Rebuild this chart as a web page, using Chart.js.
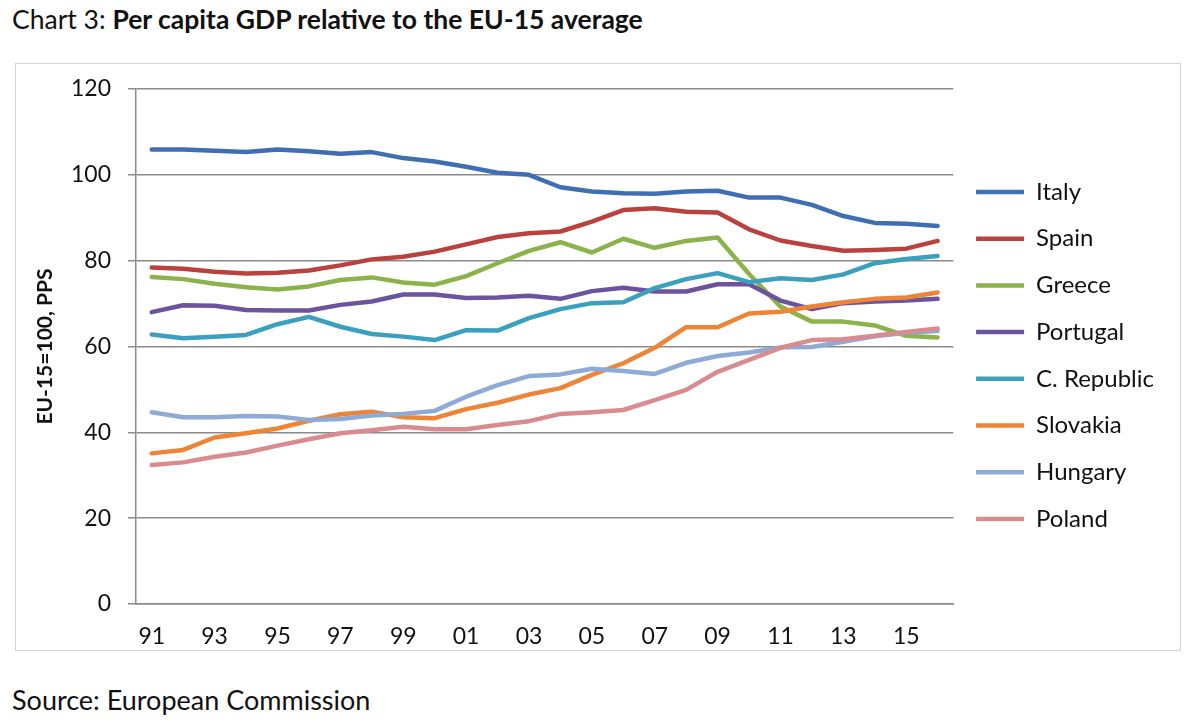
<!DOCTYPE html>
<html>
<head>
<meta charset="utf-8">
<script src="https://cdn.jsdelivr.net/npm/chart.js@4.4.0/dist/chart.umd.min.js"></script>
<style>
  body { margin: 0; background: #fff; width: 1200px; height: 728px; position: relative; overflow: hidden; font-family: Lato, "Open Sans", sans-serif; color: #111; }
  #title { position: absolute; left: 12px; top: 3px; font-size: 26.5px; white-space: nowrap; }
  #title b { font-weight: bold; }
  #frame { position: absolute; left: 15px; top: 63px; width: 1164px; height: 586px; border: 1px solid #d4d4d4; }
  #wrap { position: absolute; left: 16px; top: 64px; width: 1164px; height: 586px; }
  #source { position: absolute; left: 12px; top: 683px; font-size: 27px; white-space: nowrap; }
</style>
</head>
<body>
<div id="title">Chart 3: <b>Per capita GDP relative to the EU-15 average</b></div>
<div id="frame"></div>
<div id="wrap"><canvas id="chart"></canvas></div>
<div id="source">Source: European Commission</div>
<script>
// years 1991 - 2016
const years = ['91','92','93','94','95','96','97','98','99','00','01','02','03',
               '04','05','06','07','08','09','10','11','12','13','14','15','16'];

const italy    = [105.9,105.9,105.6,105.3,105.9,105.5,104.9,105.3,103.9,103.1,101.9,100.5,100.0,97.1,96.1,95.7,95.6,96.1,96.3,94.7,94.7,93.0,90.4,88.8,88.6,88.1];
const spain    = [78.4,78.1,77.4,77.0,77.2,77.7,78.9,80.3,80.9,82.1,83.8,85.5,86.4,86.8,89.1,91.8,92.2,91.4,91.2,87.3,84.7,83.4,82.3,82.5,82.8,84.6];
const greece   = [76.2,75.7,74.6,73.8,73.3,74.0,75.5,76.1,74.9,74.4,76.4,79.4,82.3,84.3,81.9,85.1,83.0,84.6,85.4,76.9,69.3,65.8,65.8,64.9,62.5,62.1];
const portugal = [68.0,69.6,69.5,68.5,68.4,68.4,69.7,70.5,72.1,72.1,71.3,71.4,71.8,71.1,72.9,73.7,72.8,72.8,74.5,74.5,70.7,68.7,70.1,70.5,70.7,71.1];
const czech    = [62.8,61.9,62.3,62.7,65.2,66.9,64.6,62.9,62.3,61.5,63.8,63.7,66.6,68.7,70.1,70.3,73.6,75.7,77.1,75.0,75.9,75.5,76.8,79.4,80.4,81.1];
const slovakia = [35.1,35.9,38.8,39.8,40.9,42.7,44.2,44.8,43.5,43.3,45.4,46.9,48.8,50.3,53.4,56.1,59.7,64.5,64.5,67.7,68.1,69.3,70.3,71.1,71.4,72.6];
const hungary  = [44.7,43.5,43.5,43.8,43.7,42.9,43.1,43.9,44.3,45.0,48.3,51.0,53.1,53.5,54.8,54.3,53.6,56.2,57.8,58.6,59.8,59.9,61.1,62.4,63.2,63.6];
const poland   = [32.4,33.0,34.3,35.3,36.9,38.4,39.8,40.5,41.3,40.7,40.7,41.7,42.6,44.3,44.7,45.2,47.5,49.9,54.1,56.9,59.7,61.5,61.7,62.5,63.4,64.2];

const countries = ['Italy','Spain','Greece','Portugal','C. Republic','Slovakia','Hungary','Poland'];
const series = [italy, spain, greece, portugal, czech, slovakia, hungary, poland];
const colors = ['#3f6fb2','#b9423f','#8cb24c','#6c539d','#3aa0bd','#ee8436','#8eaad6','#d98c90'];

const yTicks = [0, 20, 40, 60, 80, 100, 120];

const font = 'Lato';

const datasets = countries.map((name, i) => ({
    label: name,
    data: series[i],
    borderColor: colors[i],
    backgroundColor: colors[i],
    borderWidth: 4.5,
    borderCapStyle: 'round',
    borderJoinStyle: 'round',
    pointRadius: 0,
    tension: 0,
    order: countries.length - i   // later series on top, like excel
}));

new Chart(document.getElementById('chart'), {
    type: 'line',
    data: { labels: years, datasets: datasets },
    options: {
        responsive: true,
        maintainAspectRatio: false,
        animation: false,
        layout: { padding: { top: 25, right: 16, bottom: 0, left: 0 } },
        plugins: {
            tooltip: { enabled: false },
            legend: {
                position: 'right',
                align: 'start',
                // empty title used as a spacer so the first entry sits level with ~97
                title: { display: true, text: ' ', font: { size: 10 }, padding: { top: 56.3, bottom: 0 } },
                labels: {
                    usePointStyle: true,
                    pointStyle: 'line',
                    pointStyleWidth: 48,
                    padding: 22.7,
                    color: '#111',
                    font: { family: font, size: 24 },
                    sort: (a, b) => a.datasetIndex - b.datasetIndex
                }
            }
        },
        scales: {
            x: {
                offset: true,
                grid: { display: false, drawTicks: false },
                border: { display: true, color: '#8a8a8a', width: 1.5 },
                ticks: {
                    autoSkip: false,
                    maxRotation: 0,
                    padding: 19,
                    color: '#111',
                    font: { family: font, size: 23 },
                    callback: (v, i) => (i % 2 === 0 ? years[i] : '')
                },
                afterFit: s => { s.height = 46; }
            },
            y: {
                min: 0,
                max: 120,
                afterBuildTicks: s => { s.ticks = yTicks.map(v => ({ value: v })); },
                grid: { color: '#8a8a8a', lineWidth: 1.5, tickLength: 8 },
                border: { display: true, color: '#8a8a8a', width: 1.5 },
                ticks: { padding: 17, color: '#111', font: { family: font, size: 23 } },
                title: {
                    display: true,
                    text: 'EU-15=100, PPS',
                    color: '#111',
                    font: { family: font, size: 21, weight: 'bold' },
                    padding: { top: 17, bottom: 0 }
                },
                afterFit: s => {
                    s.width = 120;
                    s.paddingTop = 10;
                    s.paddingBottom = 10;
                }
            }
        }
    }
});
</script>
</body>
</html>
